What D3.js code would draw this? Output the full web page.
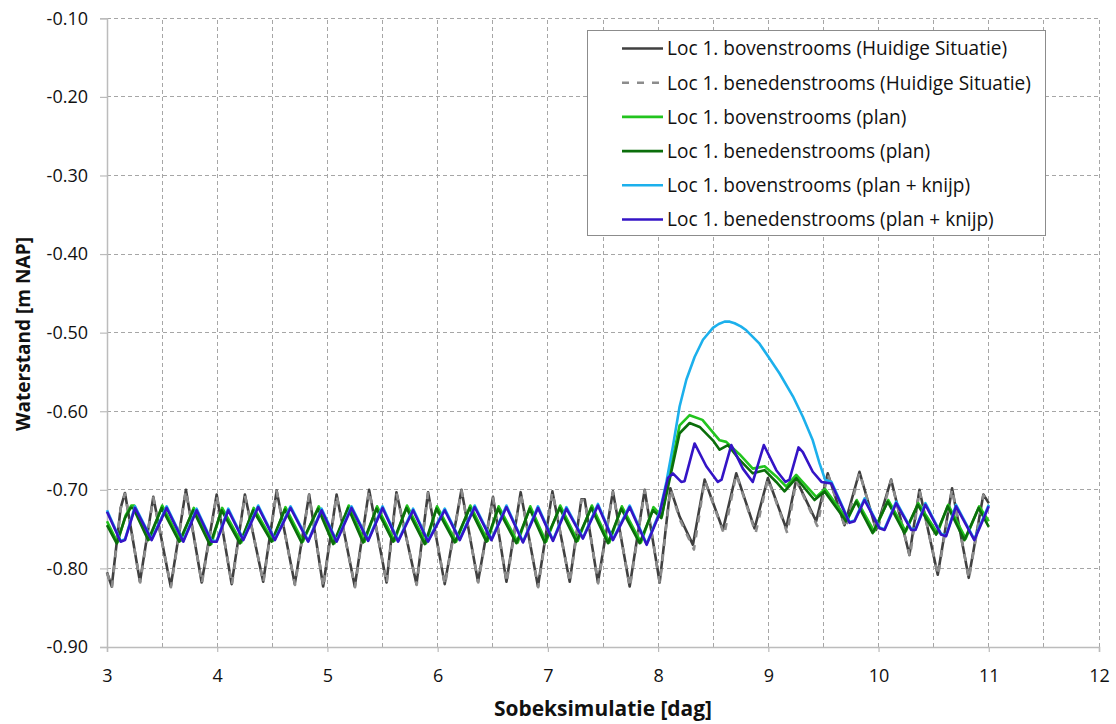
<!DOCTYPE html>
<html>
<head>
<meta charset="utf-8">
<script src="https://cdn.jsdelivr.net/npm/d3@7"></script>
<style>
  body { margin: 0; background: #fff; }
  svg { display: block; }
  text { font-family: "Open Sans", "Noto Sans", sans-serif; fill: #111; }
</style>
</head>
<body>
<svg id="chart" width="1116" height="724"></svg>
<script>
// ---- axis ticks ----
const xTicks = [3, 4, 5, 6, 7, 8, 9, 10, 11, 12];
const xGrid = [3.5, 4, 4.5, 5, 5.5, 6, 6.5, 7, 7.5, 8, 8.5, 9, 9.5, 10, 10.5, 11, 11.5, 12];
const yTicks = [-0.9, -0.8, -0.7, -0.6, -0.5, -0.4, -0.3, -0.2, -0.1];

const xTitle = "Sobeksimulatie [dag]";
const yTitle = "Waterstand [m NAP]";

const seriesNames = [
  "Loc 1. bovenstrooms (Huidige Situatie)",
  "Loc 1. benedenstrooms (Huidige Situatie)",
  "Loc 1. bovenstrooms (plan)",
  "Loc 1. benedenstrooms (plan)",
  "Loc 1. bovenstrooms (plan + knijp)",
  "Loc 1. benedenstrooms (plan + knijp)"
];

// ---- series: [dag, waterstand m NAP] ----
const bovenHuidig = [
  [3.000,-0.805],[3.043,-0.823],[3.124,-0.723],[3.163,-0.704],[3.299,-0.817],[3.420,-0.709],
  [3.578,-0.823],[3.716,-0.700],[3.859,-0.818],[3.995,-0.706],[4.131,-0.820],[4.251,-0.706],
  [4.417,-0.817],[4.539,-0.701],[4.704,-0.820],[4.834,-0.706],[4.961,-0.823],[5.083,-0.706],
  [5.248,-0.823],[5.378,-0.700],[5.536,-0.818],[5.626,-0.703],[5.808,-0.820],[5.913,-0.703],
  [6.064,-0.820],[6.216,-0.700],[6.366,-0.817],[6.502,-0.709],[6.624,-0.817],[6.753,-0.703],
  [6.910,-0.823],[7.041,-0.702],[7.198,-0.817],[7.304,-0.712],[7.334,-0.712],[7.454,-0.818],
  [7.590,-0.702],[7.742,-0.823],[7.878,-0.700],[8.014,-0.818],[8.111,-0.698],[8.195,-0.734],
  [8.316,-0.770],[8.422,-0.687],[8.588,-0.751],[8.709,-0.679],[8.875,-0.749],[8.996,-0.685],
  [9.162,-0.749],[9.253,-0.687],[9.434,-0.740],[9.539,-0.679],[9.691,-0.745],[9.827,-0.677],
  [9.978,-0.751],[10.114,-0.687],[10.280,-0.783],[10.371,-0.700],[10.537,-0.808],[10.667,-0.698],
  [10.818,-0.812],[10.951,-0.706],[11.000,-0.717]
];

const benedenHuidig = [
  [3.000,-0.806],[3.045,-0.824],[3.124,-0.724],[3.163,-0.705],[3.301,-0.818],[3.420,-0.710],
  [3.580,-0.824],[3.716,-0.701],[3.861,-0.819],[3.995,-0.707],[4.133,-0.821],[4.251,-0.707],
  [4.419,-0.818],[4.539,-0.702],[4.706,-0.821],[4.834,-0.707],[4.963,-0.824],[5.083,-0.707],
  [5.250,-0.824],[5.378,-0.701],[5.538,-0.819],[5.626,-0.704],[5.810,-0.821],[5.913,-0.704],
  [6.066,-0.821],[6.216,-0.701],[6.368,-0.818],[6.502,-0.710],[6.626,-0.818],[6.753,-0.704],
  [6.912,-0.824],[7.041,-0.703],[7.200,-0.818],[7.304,-0.713],[7.334,-0.713],[7.456,-0.819],
  [7.590,-0.703],[7.744,-0.824],[7.878,-0.701],[8.016,-0.819],[8.111,-0.699],[8.198,-0.738],
  [8.325,-0.776],[8.422,-0.688],[8.600,-0.757],[8.709,-0.680],[8.885,-0.755],[8.996,-0.686],
  [9.172,-0.755],[9.253,-0.688],[9.444,-0.746],[9.539,-0.680],[9.700,-0.749],[9.827,-0.678],
  [9.985,-0.754],[10.114,-0.688],[10.285,-0.785],[10.371,-0.701],[10.540,-0.809],[10.667,-0.699],
  [10.820,-0.813],[10.951,-0.707],[11.000,-0.718]
];

const bovenPlan = [
  [3.000,-0.740],[3.095,-0.767],[3.168,-0.733],[3.220,-0.720],[3.248,-0.720],[3.386,-0.763],
  [3.501,-0.720],[3.667,-0.765],[3.787,-0.723],[3.946,-0.769],[4.045,-0.723],[4.218,-0.767],
  [4.331,-0.723],[4.505,-0.765],[4.619,-0.722],[4.777,-0.766],[4.921,-0.721],[5.064,-0.768],
  [5.193,-0.720],[5.336,-0.766],[5.450,-0.721],[5.608,-0.765],[5.722,-0.720],[5.895,-0.768],
  [5.994,-0.721],[6.167,-0.766],[6.296,-0.720],[6.454,-0.765],[6.553,-0.721],[6.726,-0.767],
  [6.840,-0.721],[6.983,-0.766],[7.112,-0.720],[7.270,-0.765],[7.399,-0.720],[7.557,-0.767],
  [7.671,-0.721],[7.844,-0.767],[7.958,-0.722],[8.034,-0.734],[8.104,-0.680],[8.195,-0.618],
  [8.286,-0.605],[8.402,-0.611],[8.558,-0.637],[8.618,-0.639],[8.740,-0.655],[8.859,-0.673],
  [8.966,-0.670],[9.072,-0.683],[9.162,-0.696],[9.253,-0.681],[9.434,-0.709],[9.515,-0.699],
  [9.718,-0.738],[9.802,-0.713],[9.960,-0.753],[10.088,-0.713],[10.247,-0.753],[10.360,-0.717],
  [10.534,-0.755],[10.632,-0.719],[10.791,-0.762],[10.913,-0.721],[11.000,-0.740]
];

const benedenPlan = [
  [3.000,-0.745],[3.088,-0.768],[3.163,-0.736],[3.215,-0.723],[3.238,-0.723],[3.374,-0.764],
  [3.496,-0.723],[3.655,-0.766],[3.782,-0.726],[3.934,-0.770],[4.040,-0.726],[4.206,-0.768],
  [4.326,-0.726],[4.493,-0.766],[4.614,-0.725],[4.765,-0.767],[4.916,-0.724],[5.052,-0.769],
  [5.188,-0.723],[5.324,-0.767],[5.445,-0.724],[5.596,-0.766],[5.717,-0.723],[5.883,-0.769],
  [5.989,-0.724],[6.155,-0.767],[6.291,-0.723],[6.442,-0.766],[6.548,-0.724],[6.714,-0.768],
  [6.835,-0.724],[6.971,-0.767],[7.107,-0.723],[7.258,-0.766],[7.394,-0.723],[7.545,-0.768],
  [7.666,-0.724],[7.832,-0.768],[7.953,-0.726],[8.029,-0.736],[8.104,-0.687],[8.195,-0.628],
  [8.286,-0.615],[8.377,-0.620],[8.497,-0.637],[8.558,-0.649],[8.633,-0.643],[8.740,-0.662],
  [8.859,-0.679],[8.966,-0.675],[9.072,-0.690],[9.147,-0.702],[9.253,-0.685],[9.419,-0.713],
  [9.510,-0.702],[9.706,-0.740],[9.797,-0.715],[9.947,-0.755],[10.083,-0.715],[10.235,-0.755],
  [10.355,-0.719],[10.522,-0.757],[10.627,-0.721],[10.779,-0.764],[10.908,-0.723],[11.000,-0.747]
];

const bovenKnijp = [
  [3.000,-0.726],[3.124,-0.765],[3.163,-0.763],[3.254,-0.721],[3.405,-0.763],[3.541,-0.721],
  [3.692,-0.765],[3.813,-0.724],[3.949,-0.765],[3.995,-0.765],[4.100,-0.724],[4.236,-0.763],
  [4.372,-0.720],[4.523,-0.763],[4.665,-0.721],[4.825,-0.765],[4.947,-0.724],[5.083,-0.765],
  [5.218,-0.721],[5.369,-0.764],[5.500,-0.721],[5.641,-0.765],[5.777,-0.724],[5.913,-0.765],
  [6.064,-0.724],[6.200,-0.763],[6.336,-0.720],[6.488,-0.763],[6.624,-0.720],[6.774,-0.766],
  [6.910,-0.721],[7.046,-0.764],[7.168,-0.722],[7.318,-0.761],[7.454,-0.718],[7.590,-0.763],
  [7.742,-0.720],[7.896,-0.769],[8.014,-0.728],[8.075,-0.690],[8.134,-0.645],[8.195,-0.594],
  [8.256,-0.560],[8.331,-0.531],[8.407,-0.509],[8.497,-0.494],[8.550,-0.489],[8.603,-0.486],
  [8.650,-0.486],[8.694,-0.488],[8.750,-0.492],[8.800,-0.497],[8.920,-0.514],[9.011,-0.533],
  [9.102,-0.552],[9.223,-0.581],[9.313,-0.607],[9.403,-0.637],[9.464,-0.666],[9.515,-0.687],
  [9.573,-0.690],[9.736,-0.741],[9.782,-0.739],[9.873,-0.711],[10.009,-0.748],[10.054,-0.750],
  [10.160,-0.715],[10.296,-0.750],[10.335,-0.750],[10.425,-0.717],[10.567,-0.756],[10.613,-0.758],
  [10.703,-0.719],[10.869,-0.763],[11.000,-0.719]
];

const benedenKnijp = [
  [3.000,-0.728],[3.124,-0.766],[3.163,-0.764],[3.254,-0.723],[3.405,-0.764],[3.541,-0.723],
  [3.692,-0.766],[3.813,-0.726],[3.949,-0.766],[3.995,-0.766],[4.100,-0.726],[4.236,-0.764],
  [4.372,-0.722],[4.523,-0.764],[4.665,-0.723],[4.825,-0.766],[4.947,-0.726],[5.083,-0.766],
  [5.218,-0.723],[5.369,-0.765],[5.500,-0.723],[5.641,-0.766],[5.777,-0.726],[5.913,-0.766],
  [6.064,-0.726],[6.200,-0.764],[6.336,-0.722],[6.488,-0.764],[6.624,-0.722],[6.774,-0.767],
  [6.910,-0.723],[7.046,-0.765],[7.168,-0.724],[7.318,-0.762],[7.454,-0.720],[7.590,-0.764],
  [7.742,-0.722],[7.896,-0.770],[8.014,-0.730],[8.089,-0.685],[8.134,-0.679],[8.210,-0.690],
  [8.240,-0.689],[8.331,-0.641],[8.437,-0.670],[8.542,-0.690],[8.576,-0.687],[8.664,-0.643],
  [8.769,-0.673],[8.859,-0.690],[8.959,-0.643],[9.072,-0.675],[9.156,-0.690],[9.192,-0.687],
  [9.274,-0.646],[9.313,-0.652],[9.403,-0.677],[9.482,-0.690],[9.573,-0.692],[9.736,-0.742],
  [9.782,-0.740],[9.873,-0.713],[10.009,-0.749],[10.054,-0.751],[10.160,-0.717],[10.296,-0.751],
  [10.335,-0.751],[10.425,-0.719],[10.567,-0.757],[10.613,-0.759],[10.703,-0.721],[10.869,-0.764],
  [11.000,-0.721]
];

const seriesData = [bovenHuidig, benedenHuidig, bovenPlan, benedenPlan, bovenKnijp, benedenKnijp];
const seriesColors = ["#404040", "#8c8c8c", "#22c41e", "#0b6e0b", "#1cb0ec", "#3414c6"];
const seriesDash = [null, "7,8", null, null, null, null];

// ---- layout ----
const svg = d3.select("#chart");
const x = d3.scaleLinear().domain([3, 12]).range([107, 1099]);
const y = d3.scaleLinear().domain([-0.9, -0.1]).range([647, 18.3]);

// gridlines
const grid = svg.append("g").attr("stroke", "#a6a6a6").attr("stroke-width", 1)
  .attr("stroke-dasharray", "4,3").attr("shape-rendering", "crispEdges");
grid.selectAll("line.h").data(yTicks.filter(v => v > -0.9)).join("line")
  .attr("class", "h").attr("x1", x(3)).attr("x2", x(12))
  .attr("y1", d => y(d)).attr("y2", d => y(d));
grid.selectAll("line.v").data(xGrid).join("line")
  .attr("class", "v").attr("y1", y(-0.9)).attr("y2", y(-0.1))
  .attr("x1", d => x(d)).attr("x2", d => x(d));

// axes
const fmtY = d => d.toFixed(2);
const yAxis = svg.append("g").attr("transform", `translate(${x(3)},0)`)
  .call(d3.axisLeft(y).tickValues(yTicks).tickSize(7).tickPadding(12).tickFormat(fmtY));
const xAxis = svg.append("g").attr("transform", `translate(0,${y(-0.9)})`)
  .call(d3.axisBottom(x).tickValues(xTicks).tickSize(5).tickPadding(17).tickFormat(d3.format("d")));
[yAxis, xAxis].forEach(a => {
  a.select(".domain").attr("stroke", "#bcbcbc").attr("stroke-width", 1.5);
  a.selectAll(".tick line").attr("stroke", "#bcbcbc").attr("stroke-width", 1.2);
  a.selectAll(".tick text").attr("font-size", 18).attr("fill", "#111")
    .style("font-family", "'Open Sans', sans-serif");
});

// series lines
const line = d3.line().x(d => x(d[0])).y(d => y(d[1]));
seriesData.forEach((data, i) => {
  svg.append("path").datum(data)
    .attr("fill", "none")
    .attr("stroke", seriesColors[i])
    .attr("stroke-width", 2.6)
    .attr("stroke-linejoin", "round")
    .attr("stroke-dasharray", seriesDash[i])
    .attr("d", line);
});

// helper: fit a text element's font size to a given width
function fitText(sel, width) {
  const w = sel.node().getComputedTextLength();
  const fs = parseFloat(sel.attr("font-size"));
  sel.attr("font-size", (fs * width / w).toFixed(2));
}

// axis titles
const yt = svg.append("text").text(yTitle)
  .attr("transform", "translate(30,334) rotate(-90)")
  .attr("text-anchor", "middle").attr("font-weight", "bold").attr("font-size", 20);
fitText(yt, 194);
const xt = svg.append("text").text(xTitle)
  .attr("x", 603).attr("y", 716)
  .attr("text-anchor", "middle").attr("font-weight", "bold").attr("font-size", 20);
fitText(xt, 218);

// legend
const lg = svg.append("g");
lg.append("rect").attr("x", 587.5).attr("y", 30.5).attr("width", 458).attr("height", 205)
  .attr("fill", "#fff").attr("stroke", "#8c8c8c").attr("stroke-width", 1);
const rowY = i => 48.5 + i * 34.2;
const items = lg.selectAll("g.item").data(seriesNames).join("g").attr("class", "item");
items.append("line")
  .attr("x1", 622).attr("x2", 663)
  .attr("y1", (d, i) => rowY(i)).attr("y2", (d, i) => rowY(i))
  .attr("stroke", (d, i) => seriesColors[i]).attr("stroke-width", 2.6)
  .attr("stroke-dasharray", (d, i) => seriesDash[i]);
const labels = items.append("text")
  .attr("x", 667).attr("y", (d, i) => rowY(i)).attr("dy", "0.36em")
  .attr("font-size", 18).text(d => d);
// size legend labels from the widest entry
const widest = labels.filter((d, i) => i === 1);
const wl = widest.node().getComputedTextLength();
labels.attr("font-size", (18 * 364 / wl).toFixed(2));
</script>
</body>
</html>
